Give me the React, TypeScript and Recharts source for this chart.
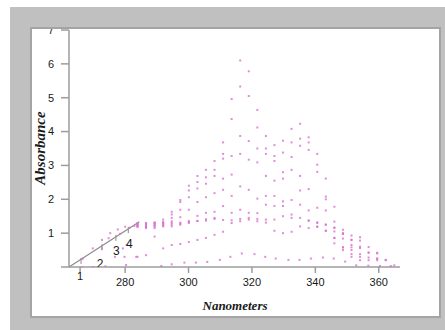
import { ScatterChart, Scatter, XAxis, YAxis, ReferenceLine } from "recharts";

// wavelength grid (nm) shared by the main spectra
const gridNm = [
  283.9, 286.6, 289.3, 292.0, 294.7, 297.4, 300.1, 302.8, 305.5, 308.2, 310.9,
  313.6, 316.3, 319.0, 321.7, 324.4, 327.1, 329.8, 332.5, 335.2, 337.9, 340.6,
  343.3, 346.0, 348.7, 351.4, 354.1, 356.8, 359.5, 362.2, 364.9,
];

const spec1 = [1.3, 1.3, 1.32, 1.4, 1.63, 1.98, 2.4, 2.69, 2.87, 3.13, 3.68, 4.96, 6.1, 5.78, 4.64, 3.87, 3.6, 3.73, 4.08, 4.23, 3.83, 3.34, 2.61, 1.78, 1.1, 0.93, 0.88, 0.59, 0.42, 0.21, 0.05];
const spec2 = [1.28, 1.28, 1.3, 1.33, 1.55, 1.92, 2.26, 2.51, 2.65, 2.87, 3.34, 4.37, 5.33, 5.05, 4.12, 3.5, 3.28, 3.38, 3.68, 3.79, 3.68, 3.02, 2.08, 1.34, 1.0, 0.8, 0.78, 0.43, 0.4, 0.2, null];
const spec3 = [1.26, 1.25, 1.28, 1.3, 1.45, 1.69, 2.06, 2.32, 2.46, 2.69, 3.2, 3.28, 3.87, 3.72, 3.5, 3.34, 3.13, 2.8, 3.25, 3.58, 3.46, 2.81, 2.0, 1.16, 0.98, 0.65, 0.6, 0.28, 0.25, null, null];
const spec4 = [1.24, 1.22, 1.25, 1.28, 1.35, 1.47, 1.69, 1.92, 2.06, 2.18, 2.61, 2.73, 3.34, 3.17, 3.09, 2.69, 2.55, 2.61, 2.87, 2.69, 2.3, 1.75, 1.67, 1.05, 0.84, 0.58, 0.38, 0.2, 0.2, null, null];
const spec5 = [1.22, 1.2, 1.22, 1.25, 1.3, 1.31, 1.36, 1.51, 1.6, 1.63, 2.28, 2.1, 2.38, 2.28, 2.02, 2.1, 2.1, 1.94, 1.98, 2.26, 1.67, 1.31, 1.25, 0.86, 0.58, 0.5, 0.3, null, null, null, null];
const spec6 = [1.2, 1.18, 1.2, 1.22, 1.25, 1.28, 1.33, 1.36, 1.41, 1.45, 1.8, 1.6, 1.69, 1.6, 1.59, 1.84, 1.8, 1.8, 1.55, 1.84, 1.37, 1.19, 1.07, 0.7, 0.5, 0.3, 0.2, null, null, null, null];
const spec7 = [1.18, 1.15, 1.15, 1.2, 1.2, 1.25, 1.3, 1.36, 1.37, 1.42, 1.39, 1.38, 1.42, 1.45, 1.42, 1.4, 1.4, 1.5, 1.45, 1.45, 1.37, 1.31, 1.25, 1.16, 0.98, 0.8, 0.56, 0.42, 0.25, null, null];
const spec8 = [0.3, 0.35, 0.9, 0.55, 0.65, 0.68, 0.74, 0.8, 0.86, 0.95, 1.04, 1.3, 1.35, 1.4, 1.35, 1.31, 1.07, 1.0, 1.04, 1.2, 1.15, 1.19, 1.07, 0.86, 0.58, 0.38, null, null, null, null, null];

// lowest spectrum, sampled on its own wavelengths
const lowNm = [291.4, 294.7, 298.7, 302.3, 305.9, 309.9, 313.2, 316.8, 320.8, 324.2, 327.5, 331.5, 335.0, 338.6, 342.4, 345.8, 349.4, 352.9, 356.7, 360.4, 363.8];
const lowAbs = [0.03, 0.08, 0.13, 0.13, 0.15, 0.21, 0.3, 0.4, 0.38, 0.3, 0.25, 0.21, 0.21, 0.25, 0.28, 0.25, 0.16, 0.05, 0.04, 0.03, 0.03];

// rising edge below 284 nm
const riseNm = [262.4, 266.6, 269.8, 272.7, 275.3, 277.7, 280.0, 281.4, 282.9];
const riseAbs = [0, 0.24, 0.55, 0.8, 1.0, 1.11, 1.19, 1.16, 1.21];
const edgeNm = [266.3, 269.8, 272.7, 273.8, 274.8, 276.8, 278.4, 279.3, 279.8, 280.3, 280.5, 283.5];
const edgeAbs = [0.0, 0.0, 0.55, 0.02, 0.85, 0.3, 0.98, 0.55, 0.3, 0.06, 0.65, 0.3];

// calibration line and its markers
const lineNm = [262.3, 284.5];
const lineAbs = [0, 1.34];
const markNm = [266.1, 272.7, 277.1, 281.0];
const markAbs = [0.23, 0.63, 0.91, 1.14];
const labelNm = [272.1, 277.2, 281.3];
const labelAbs = [0.09, 0.47, 0.68];
const labelText = ["2", "3", "4"];

const xTicks = [265.8, 280, 300, 320, 340, 360];
const yTicks = [0, 1, 2, 3, 4, 5, 6, 7];

const toPoints = (xs: number[], ys: (number | null)[]) =>
  xs
    .map((x, i) => ({ x, y: ys[i] }))
    .filter((p) => p.y !== null && p.y !== undefined);

const allSpectra = [spec1, spec2, spec3, spec4, spec5, spec6, spec7, spec8];

const DOT = "#d86fce";
const INK = "#1a1a1a";

const Dot = (props: any) => (
  <rect x={props.cx - 1} y={props.cy - 1} width={2} height={2} style={{ fill: DOT, fillOpacity: 0.8 }} />
);

const XTick = (props: any) => {
  const { x, y, payload } = props;
  const first = payload.value === xTicks[0];
  return (
    <text
      x={x}
      y={first ? y - 6 : y}
      dy="0.71em"
      textAnchor="middle"
      fontSize={11}
      style={{ fill: INK }}
      fontFamily="Liberation Sans, Arial, sans-serif"
    >
      {first ? "1" : payload.value}
    </text>
  );
};

export default function App() {
  const labelPts = labelNm.map((x, i) => ({ x, y: labelAbs[i], t: labelText[i] }));
  return (
    <div
      style={{
        position: "absolute",
        left: 0,
        top: 0,
        width: 445,
        height: 330,
        background: "#ffffff",
        overflow: "hidden",
      }}
    >
      <div
        style={{
          position: "absolute",
          left: 10,
          top: 7,
          width: 435,
          height: 323,
          background: "#c0c0c0",
        }}
      />
      <div
        style={{
          position: "absolute",
          left: 30,
          top: 27,
          width: 411,
          height: 291,
          boxSizing: "border-box",
          border: "2px solid #a4a4a4",
          background: "#ffffff",
          overflow: "hidden",
        }}
      >
        <div style={{ position: "absolute", left: -32, top: -29 }}>
          <ScatterChart
            width={445}
            height={330}
            margin={{ top: 30, right: 45, bottom: 33, left: 39 }}
          >
            <XAxis
              type="number"
              dataKey="x"
              domain={[262.3, 366.7]}
              allowDataOverflow
              ticks={xTicks}
              tick={<XTick />}
              tickSize={6}
              tickMargin={5}
              height={30}
              stroke="#9c9c9c"
              strokeWidth={1.5}
              label={{
                content: () => (
                  <text
                    x={235}
                    y={310}
                    textAnchor="middle"
                    fontSize={13}
                    fontStyle="italic"
                    fontWeight="bold"
                    style={{ fill: INK }}
                    fontFamily="Liberation Serif, serif"
                  >
                    Nanometers
                  </text>
                ),
              }}
            />
            <YAxis
              type="number"
              dataKey="y"
              domain={[0, 7]}
              allowDataOverflow
              ticks={yTicks}
              tickFormatter={(v) => (v === 0 ? "" : String(v))}
              tick={{ fontSize: 11, fill: INK, fontFamily: "Liberation Sans, Arial, sans-serif" }}
              tickSize={8}
              tickMargin={7}
              width={30}
              stroke="#9c9c9c"
              strokeWidth={1.5}
              label={{
                content: () => (
                  <text
                    x={0}
                    y={0}
                    transform="translate(45,148) rotate(-90)"
                    textAnchor="middle"
                    fontSize={15}
                    fontStyle="italic"
                    fontWeight="bold"
                    style={{ fill: INK }}
                    fontFamily="Liberation Serif, serif"
                  >
                    Absorbance
                  </text>
                ),
              }}
            />
            <ReferenceLine
              segment={[
                { x: lineNm[0], y: lineAbs[0] },
                { x: lineNm[1], y: lineAbs[1] },
              ]}
              stroke="#8c8c8c"
              strokeWidth={1.2}
            />
            {markNm.map((m, i) => (
              <ReferenceLine
                key={`mk${i}`}
                segment={[
                  { x: m, y: markAbs[i] + 0.04 },
                  { x: m, y: markAbs[i] - 0.14 },
                ]}
                stroke="#8c8c8c"
                strokeWidth={1}
              />
            ))}
            {allSpectra.map((s, i) => (
              <Scatter
                key={`s${i}`}
                data={toPoints(gridNm, s)}
                shape={<Dot />}
                isAnimationActive={false}
              />
            ))}
            <Scatter data={toPoints(lowNm, lowAbs)} shape={<Dot />} isAnimationActive={false} />
            <Scatter data={toPoints(riseNm, riseAbs)} shape={<Dot />} isAnimationActive={false} />
            <Scatter data={toPoints(edgeNm, edgeAbs)} shape={<Dot />} isAnimationActive={false} />
            <Scatter
              data={labelPts}
              isAnimationActive={false}
              shape={(p: any) => (
                <text
                  x={p.cx}
                  y={p.cy}
                  dy="0.35em"
                  textAnchor="middle"
                  fontSize={12}
                  style={{ fill: INK }}
                  fontFamily="Liberation Sans, Arial, sans-serif"
                >
                  {p.payload.t}
                </text>
              )}
            />
          </ScatterChart>
        </div>
      </div>
    </div>
  );
}
